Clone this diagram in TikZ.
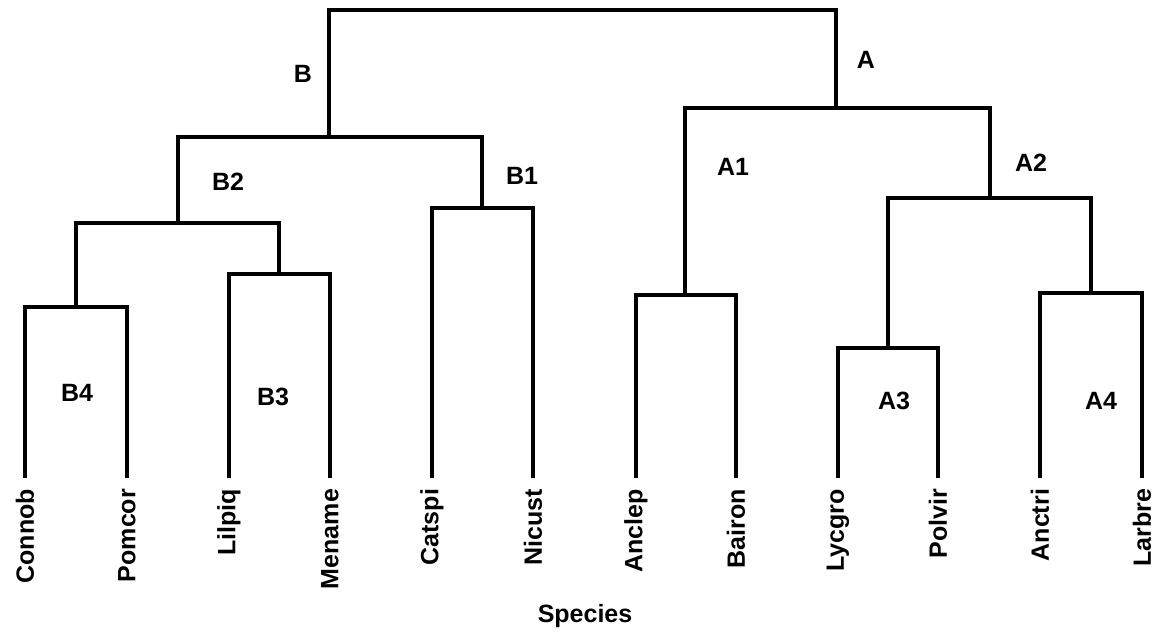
\documentclass[tikz,border=0pt]{standalone}
\usepackage{fontspec}
\setmainfont{Liberation Sans}

\begin{document}
\begin{tikzpicture}[x=1pt,y=-1pt,line width=3.8pt,
                    leaf node/.style={rotate=90,anchor=east,inner sep=0pt,outer sep=11pt,
                                      font=\fontsize{25}{30}\selectfont\bfseries},
                    group node/.style={inner sep=0pt,font=\fontsize{25}{30}\selectfont\bfseries}]
  \useasboundingbox (0,0) rectangle (1156,632);

  % species at the tips
  \node[leaf node] (connob) at (25,478)   {Connob};
  \node[leaf node] (pomcor) at (127,478)  {Pomcor};
  \node[leaf node] (lilpiq) at (229,478)  {Lilpiq};
  \node[leaf node] (mename) at (330,478)  {Mename};
  \node[leaf node] (catspi) at (432,478)  {Catspi};
  \node[leaf node] (nicust) at (533,478)  {Nicust};
  \node[leaf node] (anclep) at (636,478)  {Anclep};
  \node[leaf node] (bairon) at (736,478)  {Bairon};
  \node[leaf node] (lycgro) at (838,478)  {Lycgro};
  \node[leaf node] (polvir) at (938,478)  {Polvir};
  \node[leaf node] (anctri) at (1040,478) {Anctri};
  \node[leaf node] (larbre) at (1142,478) {Larbre};

  % joins
  \coordinate (b4) at (76,307);
  \coordinate (b3) at (279,274);
  \coordinate (b2) at (178,223);
  \coordinate (b1) at (482,208);
  \coordinate (b)  at (329,137);
  \coordinate (a1) at (685,295);
  \coordinate (a3) at (888,348);
  \coordinate (a4) at (1091,293);
  \coordinate (a2) at (990,198);
  \coordinate (a)  at (836,108);
  \coordinate (root) at (582,10);

  \draw (connob) |- (b4) -| (pomcor);
  \draw (lilpiq) |- (b3) -| (mename);
  \draw (b4) |- (b2) -| (b3);
  \draw (catspi) |- (b1) -| (nicust);
  \draw (b2) |- (b) -| (b1);
  \draw (anclep) |- (a1) -| (bairon);
  \draw (lycgro) |- (a3) -| (polvir);
  \draw (anctri) |- (a4) -| (larbre);
  \draw (a3) |- (a2) -| (a4);
  \draw (a1) |- (a) -| (a2);
  \draw (b) |- (root) -| (a);

  % cluster names
  \node[group node] (lb)  at (303,74)  {B};
  \node[group node] (la)  at (866,60)  {A};
  \node[group node] (lb2) at (228,182) {B2};
  \node[group node] (lb1) at (522,176) {B1};
  \node[group node] (la1) at (733,167) {A1};
  \node[group node] (la2) at (1031,163) {A2};
  \node[group node] (lb4) at (77,393)  {B4};
  \node[group node] (lb3) at (273,397) {B3};
  \node[group node] (la3) at (894,401) {A3};
  \node[group node] (la4) at (1101,401) {A4};

  \node[group node] (species) at (585,616) {Species};
\end{tikzpicture}
\end{document}
